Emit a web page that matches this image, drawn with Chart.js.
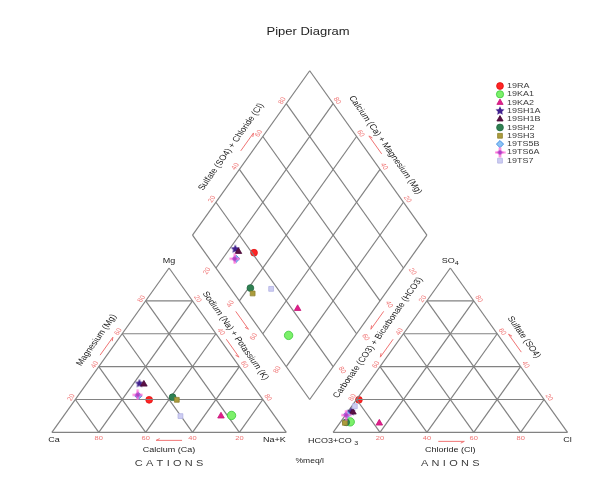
<!DOCTYPE html>
<html>
<head>
<meta charset="utf-8">
<title>Piper Diagram</title>
<script src="https://cdn.jsdelivr.net/npm/chart.js@4.4.1/dist/chart.umd.min.js"></script>
<style>
  html, body { margin: 0; padding: 0; background: #ffffff; }
  #frame { position: relative; width: 599px; height: 486px; }
</style>
</head>
<body>
<div id="frame"><canvas id="piper"></canvas></div>
<script>
// Sample identifiers
const samples = ['19RA', '19KA1', '19KA2', '19SH1A', '19SH1B', '19SH2', '19SH3', '19TS5B', '19TS6A', '19TS7'];

// Cations, % meq/l
const calcium         = [48.6, 18.2, 22.9, 47.8, 46.1, 37.8, 36.8, 52.0, 52.0, 40.2];
const magnesium       = [19.8, 10.3,  9.9, 29.7, 29.3, 21.4, 19.8, 22.2, 22.8,  9.9];
const sodiumPotassium = [31.6, 71.5, 67.2, 22.5, 24.6, 40.8, 43.4, 25.8, 25.2, 49.9];

// Anions, % meq/l
const bicarbonate     = [79.1, 89.5, 77.5, 86.0, 85.4, 91.4, 92.1, 88.6, 89.2, 82.8];
const sulfate         = [19.8,  6.4,  5.6, 12.6, 12.3,  6.1,  5.8, 10.8, 10.5, 15.9];
const chloride        = [ 1.1,  4.1, 16.9,  1.4,  2.3,  2.5,  2.1,  0.6,  0.3,  1.3];

// Percent grid divisions and their labels
const gridSteps  = [20, 40, 60, 80];
const stepLabels = ['20', '40', '60', '80'];

// ---------------------------------------------------------------------------
// Piper geometry (data units: triangle side = 100, gap between triangles = 20)
const H = Math.sqrt(3) / 2;
const GAP = 20;
const cat = (ca, mg, na) => ({ x: na + mg / 2, y: mg * H });
const an  = (hco3, so4, cl) => ({ x: 100 + GAP + cl + so4 / 2, y: so4 * H });
const dm  = (na, hco3) => ({ x: 110 + (na - hco3) / 2, y: H * (200 + GAP - na - hco3) });

// Page layout in pixels
const SQ = 0.8137;               // vertical compression of the drawing
const ORIGIN_X = 47, BASE_Y = 437, PX_X = 2.39, PX_Y = 1.9445;
const FONT = 'Arial, "Liberation Sans", Helvetica, sans-serif';
const GRID = '#828282';
const TICK = '#f07474';
const INK = '#222222';

// Marker glyphs
function starGlyph(size, fill) {
  const c = document.createElement('canvas');
  c.width = c.height = size;
  const g = c.getContext('2d');
  const r = size / 2;
  g.beginPath();
  for (let i = 0; i < 10; i++) {
    const a = -Math.PI / 2 + i * Math.PI / 5;
    const rr = i % 2 ? r * 0.45 : r - 0.3;
    g.lineTo(r + rr * Math.cos(a), r + rr * Math.sin(a));
  }
  g.closePath();
  g.fillStyle = fill;
  g.fill();
  return c;
}
function plusGlyph(size, arm, dot) {
  const c = document.createElement('canvas');
  c.width = c.height = size;
  const g = c.getContext('2d');
  const r = size / 2;
  g.strokeStyle = arm;
  g.lineWidth = 2.2;
  g.beginPath();
  g.moveTo(r, 0.5); g.lineTo(r, size - 0.5);
  g.moveTo(0.5, r); g.lineTo(size - 0.5, r);
  g.stroke();
  g.fillStyle = dot;
  g.beginPath();
  g.arc(r, r, 2.2, 0, Math.PI * 2);
  g.fill();
  return c;
}

const markerStyles = [
  { style: 'circle',   radius: 3.4, fill: '#ff2424', line: '#e01010' },
  { style: 'circle',   radius: 4.2, fill: '#7cf06a', line: '#38c838' },
  { style: 'triangle', radius: 3.8, fill: '#e0208a', line: '#c81478' },
  { style: starGlyph(10, '#40208e'), radius: 5, fill: '#40208e', line: '#40208e' },
  { style: 'triangle', radius: 3.8, fill: '#5a1044', line: '#4a0836' },
  { style: 'circle',   radius: 3.4, fill: '#2f8052', line: '#226a42' },
  { style: 'rect',     radius: 3.4, fill: '#ab9c3c', line: '#8f8230' },
  { style: 'rectRot',  radius: 3.6, fill: '#8cc4f4', line: '#2f80e0' },
  { style: plusGlyph(11, '#ff70d8', '#b040c8'), radius: 5, fill: '#ff70d8', line: '#b040c8' },
  { style: 'rect',     radius: 3.4, fill: '#cdcdf2', line: '#b4b4e4' }
];

// ---------------------------------------------------------------------------
// Grid segments
const segments = [];
const seg = (a, b) => segments.push([a, b]);
// cation triangle
seg(cat(100, 0, 0), cat(0, 0, 100));
seg(cat(0, 0, 100), cat(0, 100, 0));
seg(cat(0, 100, 0), cat(100, 0, 0));
// anion triangle
seg(an(100, 0, 0), an(0, 0, 100));
seg(an(0, 0, 100), an(0, 100, 0));
seg(an(0, 100, 0), an(100, 0, 0));
// diamond
seg(dm(100, 100), dm(100, 0));
seg(dm(100, 0), dm(0, 0));
seg(dm(0, 0), dm(0, 100));
seg(dm(0, 100), dm(100, 100));
gridSteps.forEach(k => {
  seg(cat(100 - k, k, 0), cat(0, k, 100 - k));   // Mg
  seg(cat(k, 0, 100 - k), cat(k, 100 - k, 0));   // Ca
  seg(cat(100 - k, 0, k), cat(0, 100 - k, k));   // Na + K
  seg(an(100 - k, k, 0), an(0, k, 100 - k));     // SO4
  seg(an(100 - k, 0, k), an(0, 100 - k, k));     // Cl
  seg(an(k, 0, 100 - k), an(k, 100 - k, 0));     // HCO3 + CO3
  seg(dm(k, 100), dm(k, 0));                     // Na + K in diamond
  seg(dm(100, k), dm(0, k));                     // HCO3 + CO3 in diamond
});

const gridSets = segments.map(s => ({
  data: s,
  showLine: true,
  borderColor: GRID,
  borderWidth: 1.2,
  pointRadius: 0,
  pointHoverRadius: 0,
  fill: false,
  order: 10
}));

const sampleSets = samples.map((name, i) => {
  const m = markerStyles[i];
  return {
    label: name,
    data: [
      cat(calcium[i], magnesium[i], sodiumPotassium[i]),
      an(bicarbonate[i], sulfate[i], chloride[i]),
      dm(sodiumPotassium[i], bicarbonate[i])
    ],
    showLine: false,
    pointStyle: m.style,
    pointRadius: m.radius,
    pointHoverRadius: m.radius,
    backgroundColor: m.fill,
    borderColor: m.line,
    borderWidth: 0.8,
    order: samples.length - i
  };
});

// ---------------------------------------------------------------------------
// Text and arrow helpers
function text(ctx, str, X, Y, o) {
  ctx.save();
  ctx.translate(X, Y);
  ctx.scale(1, SQ);
  if (o.rot) ctx.rotate(o.rot);
  ctx.font = (o.weight || 'normal') + ' ' + o.size + 'px ' + FONT;
  ctx.fillStyle = o.color || INK;
  ctx.textBaseline = 'middle';
  if (o.spacing) {
    const chars = str.split('');
    const widths = chars.map(ch => ctx.measureText(ch).width);
    const total = widths.reduce((a, b) => a + b, 0) + o.spacing * (chars.length - 1);
    let x = -total / 2;
    ctx.textAlign = 'left';
    chars.forEach((ch, j) => { ctx.fillText(ch, x, 0); x += widths[j] + o.spacing; });
  } else {
    ctx.textAlign = o.align || 'center';
    ctx.fillText(str, 0, 0);
  }
  ctx.restore();
}
function richText(ctx, parts, X, Y, size, color) {
  ctx.save();
  ctx.translate(X, Y);
  ctx.scale(1, SQ);
  ctx.fillStyle = color;
  ctx.textBaseline = 'middle';
  ctx.textAlign = 'left';
  const fonts = parts.map(p => (p.sub ? size * 0.8 : size) + 'px ' + FONT);
  const widths = parts.map((p, j) => { ctx.font = fonts[j]; return ctx.measureText(p.t).width; });
  let x = -widths.reduce((a, b) => a + b, 0) / 2;
  parts.forEach((p, j) => {
    ctx.font = fonts[j];
    ctx.fillText(p.t, x, p.sub ? size * 0.3 : 0);
    x += widths[j];
  });
  ctx.restore();
}
function arrow(ctx, cx, cy, dir, len) {
  const [dx, dy] = dir;
  const x0 = cx - dx * len / 2, y0 = cy - dy * len / 2;
  const x1 = cx + dx * len / 2, y1 = cy + dy * len / 2;
  ctx.save();
  ctx.strokeStyle = TICK;
  ctx.lineWidth = 1;
  ctx.beginPath();
  ctx.moveTo(x0, y0); ctx.lineTo(x1, y1);
  const a = Math.atan2(dy, dx);
  ctx.moveTo(x1, y1);
  ctx.lineTo(x1 - 4 * Math.cos(a - 0.45), y1 - 4 * Math.sin(a - 0.45));
  ctx.stroke();
  ctx.restore();
}

const piperDecor = {
  id: 'piperDecor',
  beforeDraw(chart) {
    const ctx = chart.ctx;
    ctx.save();
    ctx.fillStyle = '#ffffff';
    ctx.fillRect(0, 0, chart.width, chart.height);
    ctx.restore();
  },
  beforeDatasetsDraw(chart) {
    const ctx = chart.ctx;
    const xs = chart.scales.x, ys = chart.scales.y;
    const P = p => [xs.getPixelForValue(p.x), ys.getPixelForValue(p.y)];
    const unit = (a, b) => { const dx = b[0] - a[0], dy = b[1] - a[1], l = Math.hypot(dx, dy); return [dx / l, dy / l]; };
    const mid = (a, b) => [(a[0] + b[0]) / 2, (a[1] + b[1]) / 2];
    const UP_R = -Math.PI / 3, DOWN_R = Math.PI / 3;

    const Ca = P(cat(100, 0, 0)), Mg = P(cat(0, 100, 0)), Na = P(cat(0, 0, 100));
    const Hc = P(an(100, 0, 0)), So = P(an(0, 100, 0)), Cl = P(an(0, 0, 100));
    const Db = P(dm(100, 100)), Dl = P(dm(0, 100)), Dt = P(dm(0, 0)), Dr = P(dm(100, 0));

    const upRight = unit(Ca, Mg), downRight = unit(Mg, Na);
    const upLeft = [-downRight[0], -downRight[1]], downLeft = [-upRight[0], -upRight[1]];

    // Title
    text(ctx, 'Piper Diagram', 308, 32, { size: 13, color: '#1e1e1e' });

    // Tick labels
    const tick = (pt, dx, dy, s, rot) => { const q = P(pt); text(ctx, s, q[0] + dx, q[1] + dy, { size: 7.5, color: TICK, rot: rot || 0 }); };
    gridSteps.forEach((k, j) => {
      const s = stepLabels[j];
      tick(cat(k, 0, 100 - k), 0, 6, s);                 // Ca along base
      tick(cat(100 - k, k, 0), -4, -2, s, UP_R);         // Mg, left edge
      tick(cat(0, 100 - k, k), 5, -2, s, DOWN_R);        // Na + K, right edge
      tick(an(100 - k, 0, k), 0, 6, s);                  // Cl along base
      tick(an(0, k, 100 - k), 5, -2, s, DOWN_R);         // SO4, right edge
      tick(an(k, 100 - k, 0), -4, -2, s, UP_R);          // HCO3 + CO3, left edge
      tick(dm(k, 100), -9, 3, s, UP_R);                  // Na + K, diamond
      tick(dm(0, 100 - k), -4, -3, s, UP_R);             // SO4 + Cl, diamond
      tick(dm(100 - k, 0), 4, -3, s, DOWN_R);            // Ca + Mg, diamond
      tick(dm(100, k), 9, 3.5, s, DOWN_R);               // HCO3 + CO3, diamond
    });

    // Corner labels
    text(ctx, 'Mg', Mg[0], Mg[1] - 7, { size: 9 });
    text(ctx, 'Ca', Ca[0] + 2, Ca[1] + 8, { size: 9 });
    text(ctx, 'Na+K', Na[0] - 12, Na[1] + 8, { size: 9 });
    richText(ctx, [{ t: 'SO' }, { t: '4', sub: true }], So[0], So[1] - 7, 9, INK);
    richText(ctx, [{ t: 'HCO' }, { t: '3' }, { t: '+CO ' }, { t: '3', sub: true }], Hc[0], Hc[1] + 9, 9, INK);
    text(ctx, 'Cl', Cl[0], Cl[1] + 8, { size: 9 });

    // Axis titles
    const bl = mid(Ca, Na), br = mid(Hc, Cl);
    text(ctx, 'Calcium (Ca)', bl[0], bl[1] + 18, { size: 9 });
    text(ctx, 'Chloride (Cl)', br[0], br[1] + 18, { size: 9 });
    text(ctx, 'CATIONS', bl[0], bl[1] + 31, { size: 11, spacing: 3.3, color: '#3a3a3a' });
    text(ctx, 'ANIONS', br[0], br[1] + 31, { size: 11, spacing: 3.3, color: '#3a3a3a' });
    text(ctx, '%meq/l', (Na[0] + Hc[0]) / 2, Na[1] + 29, { size: 8.5 });

    const lMid = mid(Ca, Mg), rMid = mid(Mg, Na);
    const aLMid = mid(Hc, So), aRMid = mid(So, Cl);
    const dLL = mid(Dl, Db), dUL = mid(Dl, Dt), dUR = mid(Dt, Dr), dLR = mid(Db, Dr);

    text(ctx, 'Magnesium (Mg)', lMid[0] - 14, lMid[1] - 10, { size: 9.5, rot: UP_R });
    text(ctx, 'Sodium (Na) + Potassium (K)', (rMid[0] + dLL[0]) / 2 - 4, (rMid[1] + dLL[1]) / 2 + 2, { size: 9.5, rot: DOWN_R });
    text(ctx, 'Sulfate (SO4) + Chloride (Cl)', dUL[0] - 20, dUL[1] - 6, { size: 9.5, rot: UP_R });
    text(ctx, 'Calcium (Ca) + Magnesium (Mg)', dUR[0] + 17, dUR[1] - 8, { size: 9.5, rot: DOWN_R });
    text(ctx, 'Carbonate (CO3) + Bicarbonate (HCO3)', (aLMid[0] + dLR[0]) / 2 - 2, (aLMid[1] + dLR[1]) / 2 + 4, { size: 9.5, rot: UP_R });
    text(ctx, 'Sulfate (SO4)', aRMid[0] + 15, aRMid[1] - 13, { size: 9.5, rot: DOWN_R });

    // Direction arrows
    arrow(ctx, bl[0], bl[1] + 8, [-1, 0], 26);
    arrow(ctx, br[0] + 1, br[1] + 9, [1, 0], 26);
    arrow(ctx, lMid[0] - 4, lMid[1] - 4, upRight, 22);
    arrow(ctx, rMid[0] + 5, rMid[1] - 2, downRight, 22);
    arrow(ctx, dLL[0] - 9, dLL[1] + 3, downRight, 22);
    arrow(ctx, dUL[0] - 4, dUL[1] - 11, upRight, 22);
    arrow(ctx, dUR[0] + 7, dUR[1] - 8, upLeft, 22);
    arrow(ctx, dLR[0] + 9, dLR[1] + 3, downLeft, 22);
    arrow(ctx, aLMid[0] - 5, aLMid[1] - 2, downLeft, 22);
    arrow(ctx, aRMid[0] + 6, aRMid[1] - 7, upLeft, 22);
  },
  afterDraw(chart) {
    // Sample legend
    const ctx = chart.ctx;
    const x0 = 500, y0 = 86, step = 8.3;
    samples.forEach((name, i) => {
      const m = markerStyles[i];
      const y = y0 + i * step;
      ctx.save();
      ctx.fillStyle = m.fill;
      ctx.strokeStyle = m.line;
      ctx.lineWidth = 0.8;
      Chart.helpers.drawPoint(ctx, { pointStyle: m.style, radius: Math.min(m.radius, 3.6), rotation: 0, borderWidth: 0.8 }, x0, y);
      ctx.restore();
      text(ctx, name, x0 + 7, y, { size: 9, align: 'left', color: '#3a3a3a' });
    });
  }
};

new Chart(document.getElementById('piper'), {
  type: 'scatter',
  data: { datasets: gridSets.concat(sampleSets) },
  options: {
    responsive: true,
    maintainAspectRatio: false,
    animation: false,
    events: [],
    layout: { padding: 0 },
    scales: {
      x: { type: 'linear', display: false, min: -ORIGIN_X / PX_X, max: (599 - ORIGIN_X) / PX_X },
      y: { type: 'linear', display: false, min: -(486 - BASE_Y) / PX_Y, max: BASE_Y / PX_Y }
    },
    plugins: {
      legend: { display: false },
      title: { display: false },
      tooltip: { enabled: false }
    }
  },
  plugins: [piperDecor]
});
</script>
</body>
</html>
